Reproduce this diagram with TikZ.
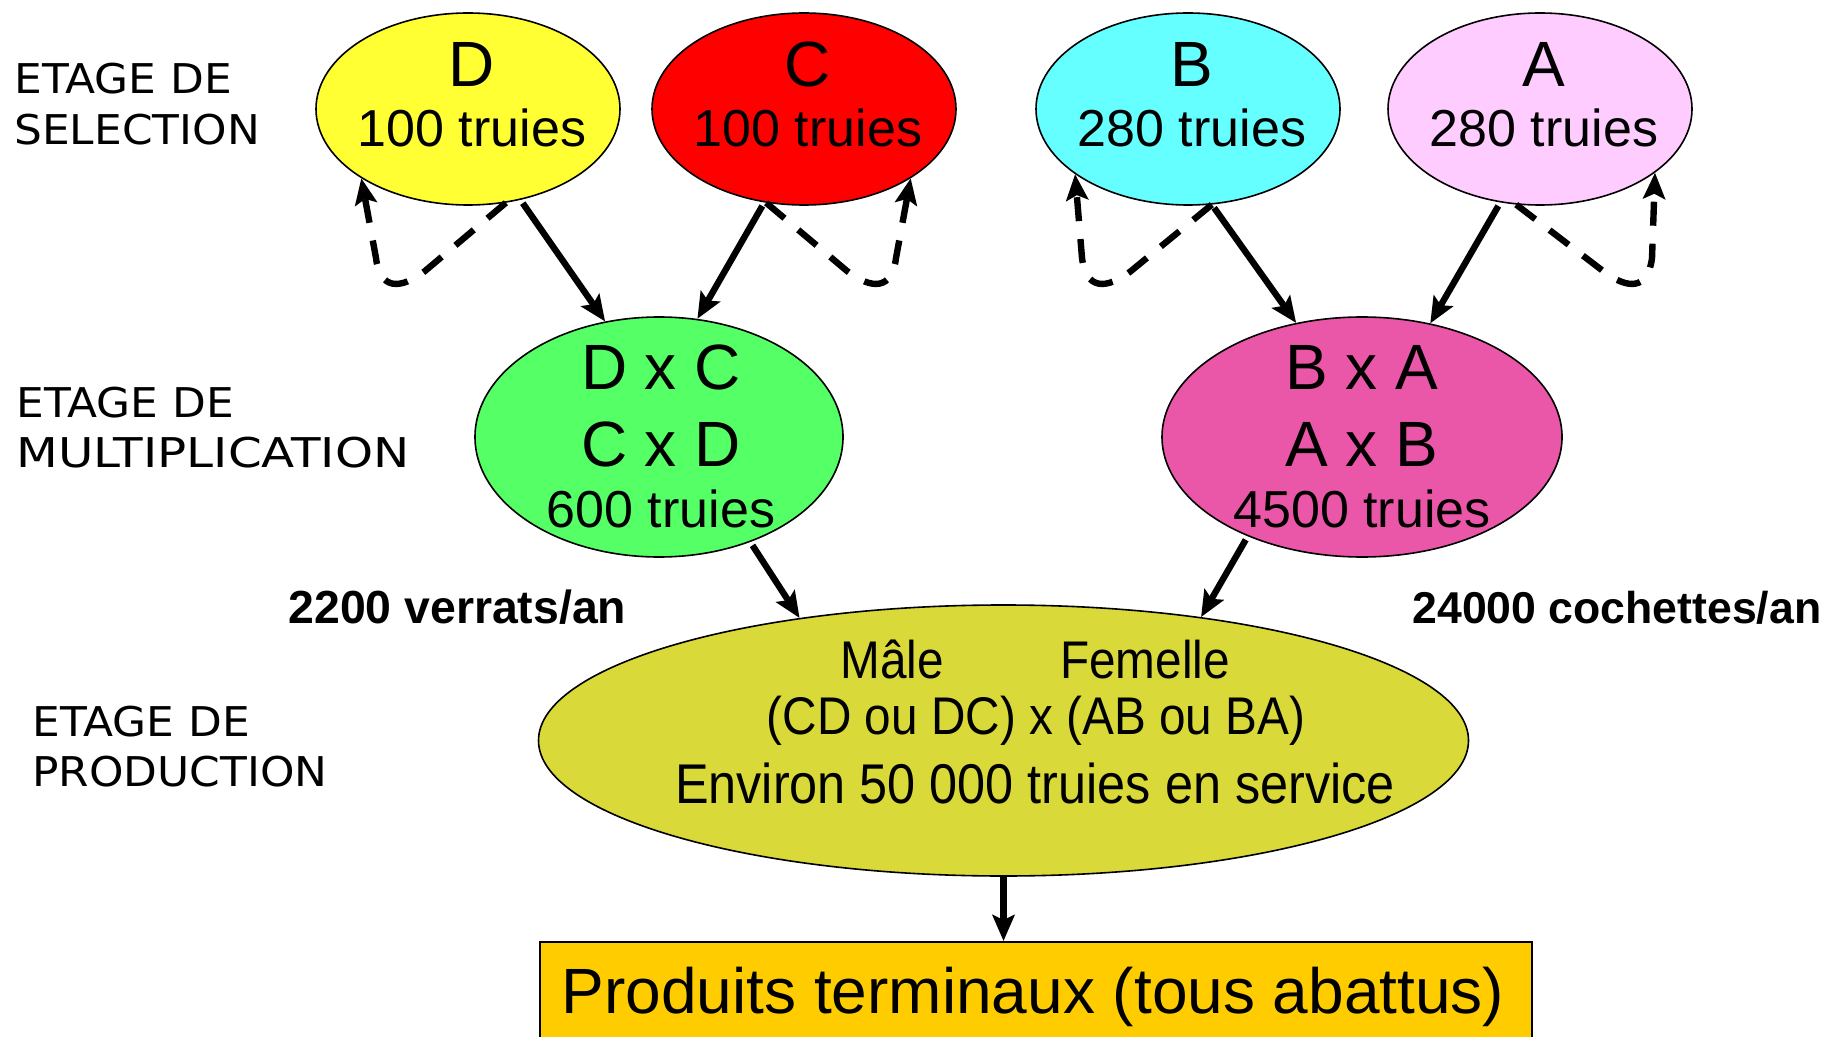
\documentclass[tikz,border=0pt]{standalone}
\usepackage{fontspec}
\setmainfont{Liberation Sans}
\newfontfamily\prodfont[FakeStretch=0.9]{Liberation Sans}
\newfontfamily\stagefont[FakeStretch=1.07]{DejaVu Sans}
\newfontfamily\stagewidefont[FakeStretch=1.18]{DejaVu Sans}
\usetikzlibrary{shapes.geometric,arrows.meta}
\definecolor{cD}{RGB}{255,255,51}
\definecolor{cC}{RGB}{255,0,0}
\definecolor{cB}{RGB}{102,255,255}
\definecolor{cA}{RGB}{255,204,255}
\definecolor{cDC}{RGB}{85,255,102}
\definecolor{cBA}{RGB}{234,87,168}
\definecolor{cP}{RGB}{217,217,58}
\definecolor{cBox}{RGB}{255,204,0}
\begin{document}
\begin{tikzpicture}[x=0.5pt,y=-0.5pt,
  ell/.style={ellipse,draw=black,line width=0.8pt,inner sep=0pt},
  arr/.style={line width=3.2pt,-{Stealth[length=13pt,width=11pt,inset=2.5pt]}},
  dashloop/.style={arr,dash pattern=on 12pt off 9pt},
  big/.style={font=\fontsize{32}{36}\selectfont,anchor=base,inner sep=0pt},
  num/.style={font=\fontsize{26}{30}\selectfont,anchor=base,inner sep=0pt},
  prodtxt/.style={font=\prodfont\fontsize{26.5}{30}\selectfont,anchor=base,inner sep=0pt},
  stage/.style={font=\stagefont\fontsize{20.5}{24}\selectfont,anchor=base west,inner sep=0pt},
  flow/.style={font=\bfseries\fontsize{23.2}{26}\selectfont,anchor=base west,inner sep=0pt}
]
\fill[white] (0,0) rectangle (1835,1037);
\useasboundingbox (0,0) rectangle (1835,1037);

% selection stage
\node[ell,fill=cD,minimum width=152pt,minimum height=96pt] (D) at (468,109) {};
\node[ell,fill=cC,minimum width=152pt,minimum height=96pt] (C) at (804,109) {};
\node[ell,fill=cB,minimum width=152pt,minimum height=96pt] (B) at (1188,109) {};
\node[ell,fill=cA,minimum width=152pt,minimum height=96pt] (A) at (1540,109) {};
\node[big] (tD) at (472,87) {D};
\node[num] (nD) at (472,147) {100 truies};
\node[big] (tC) at (808,87) {C};
\node[num] (nC) at (808,147) {100 truies};
\node[big] (tB) at (1192,87) {B};
\node[num] (nB) at (1192,147) {280 truies};
\node[big] (tA) at (1544,87) {A};
\node[num] (nA) at (1544,147) {280 truies};

% multiplication stage
\node[ell,fill=cDC,minimum width=184pt,minimum height=120pt] (DC) at (659,437) {};
\node[ell,fill=cBA,minimum width=200pt,minimum height=120pt] (BA) at (1362,437) {};
\node[big] (tDC1) at (661,390) {D x C};
\node[big] (tDC2) at (661,466) {C x D};
\node[num] (nDC) at (661,527) {600 truies};
\node[big] (tBA1) at (1362,390) {B x A};
\node[big] (tBA2) at (1362,466) {A x B};
\node[num] (nBA) at (1362,527) {4500 truies};

% production stage
\node[ell,fill=cP,minimum width=465pt,minimum height=135.5pt] (P) at (1003.5,740.5) {};
\node[prodtxt] (male) at (892,678) {Mâle};
\node[prodtxt] (femelle) at (1145,678) {Femelle};
\node[prodtxt] (cross) at (1036,734) {(CD ou DC) x (AB ou BA)};
\node[prodtxt,font=\prodfont\fontsize{28}{32}\selectfont] (env) at (1035,803) {Environ 50 000 truies en service};

% terminal box
\node[draw=black,line width=0.8pt,fill=cBox,minimum width=496pt,minimum height=55pt,inner sep=0pt,anchor=north west] (box) at (539,941) {};
\node[font=\fontsize{32}{36}\selectfont,anchor=base,inner sep=0pt] (boxt) at (1033,1013) {Produits terminaux (tous abattus)};

% stage labels
\node[stage] (s1a) at (14,94) {ETAGE DE};
\node[stage] (s1b) at (14,145) {SELECTION};
\node[stage] (s2a) at (16,417) {ETAGE DE};
\node[stage,font=\stagewidefont\fontsize{20.5}{24}\selectfont] (s2b) at (16,467) {MULTIPLICATION};
\node[stage] (s3a) at (32,736) {ETAGE DE};
\node[stage] (s3b) at (32,786) {PRODUCTION};

% flow labels
\node[flow] (verrats) at (288,623) {2200 verrats/an};
\node[flow,font=\bfseries\fontsize{22.3}{26}\selectfont] (cochettes) at (1412,623) {24000 cochettes/an};

% arrows
\draw[arr,shorten <=2pt] (D.-60) -- (DC.115);
\draw[arr,shorten <=2pt] (C.247) -- (DC.72);
\draw[arr,shorten <=2pt] (B.284) -- (BA.120);
\draw[arr,shorten <=2pt] (A.247.6) -- (BA.59.4);
\draw[arr,shorten <=2pt] (DC.-49.4) -- (P.149.3);
\draw[arr,shorten <=2pt] (BA.221.7) -- (P.32.4);
\draw[arr] (P.south) -- (P.south |- box.north);

% self loops
\draw[dashloop] (D.292) -- (425,271) .. controls (400,290) and (380,290) .. (376,258) -- (D.213);
\draw[dashloop] (C.248) -- (847,271) .. controls (872,290) and (892,290) .. (896,258) -- (C.327);
\draw[dashloop] (B.284) -- (1131,271) .. controls (1106,290) and (1086,290) .. (1082,258) -- (B.210);
\draw[dashloop] (A.256) -- (1603,271) .. controls (1628,290) and (1648,290) .. (1652,258) -- (A.331);
\end{tikzpicture}
\end{document}
